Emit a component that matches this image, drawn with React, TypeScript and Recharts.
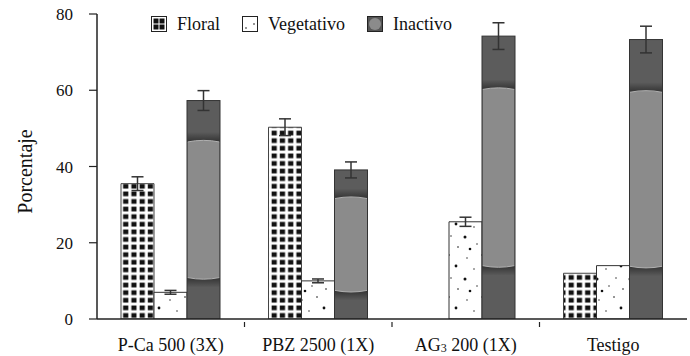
import React from 'react';
import { BarChart, Bar, XAxis, YAxis, ErrorBar } from 'recharts';

const categories = ['P-Ca 500 (3X)', 'PBZ 2500 (1X)', 'AG3 200 (1X)', 'Testigo'];
const floral = [35.5, 50.3, 0, 12];
const floralErr = [1.8, 2.2, 0, 0];
const vegetativo = [7, 10, 25.5, 14];
const vegetativoErr = [0.5, 0.5, 1.2, 0];
const inactivo = [57.3, 39.1, 74.2, 73.3];
const inactivoErr = [2.6, 2.1, 3.5, 3.5];
const yTicks = [0, 20, 40, 60, 80];

const data = categories.map((name, i) => ({
  name,
  floral: floral[i],
  floralErr: floralErr[i],
  vegetativo: vegetativo[i],
  vegetativoErr: vegetativoErr[i],
  inactivo: inactivo[i],
  inactivoErr: inactivoErr[i],
}));

const W = 690;
const H = 356;
const margin = { top: 14, right: 3, left: 0, bottom: 7 };
const Y_AXIS_W = 97;
const band = (W - margin.left - margin.right - Y_AXIS_W) / categories.length;
const FONT = '"Liberation Serif", "Times New Roman", serif';

const CategoryTick = (props: any) => {
  const { x, y, payload, index } = props;
  const label: string = payload.value;
  return (
    <g>
      {index > 0 && (
        <line x1={x - band / 2} x2={x - band / 2} y1={y + 3} y2={y + 8} stroke="#222" strokeWidth={1.2} />
      )}
      <text x={x} y={y + 32} textAnchor="middle" fontSize={18} fill="#111" fontFamily={FONT}>
        {label.startsWith('AG3') ? (
          <>
            <tspan>AG</tspan>
            <tspan fontSize={12} dy={1}>3</tspan>
            <tspan dy={-1}>{label.slice(3)}</tspan>
          </>
        ) : (
          label
        )}
      </text>
    </g>
  );
};

const YLabel = (props: any) => {
  const vb = props.viewBox || { x: 0, y: 14, width: 97, height: 305 };
  const cx = vb.x + 25;
  const cy = vb.y + vb.height / 2 + 5;
  return (
    <text
      x={cx}
      y={cy}
      transform={`rotate(-90, ${cx}, ${cy})`}
      textAnchor="middle"
      dominantBaseline="central"
      fontSize={20}
      fill="#111"
      fontFamily={FONT}
    >
      Porcentaje
    </text>
  );
};

const InactivoShape = (props: any) => {
  const { x, y, width, height } = props;
  if (!height || height <= 0) return null;
  const b = height * 0.185;
  const top = y + b;
  const bot = y + height - b;
  const topArc = `M${x + 0.5},${top + 1} Q${x + width / 2},${top - 2.2} ${x + width - 0.5},${top + 1}`;
  const botArc = `M${x + width - 0.5},${bot - 1} Q${x + width / 2},${bot + 2.2} ${x + 0.5},${bot - 1}`;
  return (
    <g>
      <rect x={x} y={y} width={width} height={height} fill="#5c5c5c" />
      <rect x={x} y={top - 9} width={width} height={10} fill="url(#shadeDown)" />
      <rect x={x} y={bot - 1} width={width} height={10} fill="url(#shadeUp)" />
      <path d={`${topArc} L${x + width - 0.5},${bot - 1} Q${x + width / 2},${bot + 2.2} ${x + 0.5},${bot - 1} Z`} fill="#8b8b8b" />
      <path d={topArc} fill="none" stroke="#b0b0b0" strokeWidth={1} />
      <path d={botArc} fill="none" stroke="#b0b0b0" strokeWidth={1} />
      <rect x={x} y={y} width={width} height={height} fill="none" stroke="#333" strokeWidth={1} />
    </g>
  );
};

const LegendBox = ({ kind }: { kind: string }) => (
  <svg width={16} height={16} style={{ display: 'block' }}>
    {kind === 'floral' && (
      <g>
        <rect x={0.5} y={0.5} width={15} height={15} fill="#fff" stroke="#222" />
        <rect x={2.5} y={2.5} width={5} height={5} fill="#111" />
        <rect x={8.5} y={2.5} width={5} height={5} fill="#111" />
        <rect x={2.5} y={8.5} width={5} height={5} fill="#111" />
        <rect x={8.5} y={8.5} width={5} height={5} fill="#111" />
      </g>
    )}
    {kind === 'veg' && (
      <g>
        <rect x={0.5} y={0.5} width={15} height={15} fill="#fff" stroke="#222" />
        <circle cx={4} cy={12} r={0.8} fill="#111" />
        <circle cx={12} cy={8} r={0.8} fill="#111" />
      </g>
    )}
    {kind === 'inact' && (
      <g>
        <rect x={0.5} y={0.5} width={15} height={15} fill="#555" stroke="#222" />
        <circle cx={8} cy={8} r={6} fill="#8b8b8b" />
      </g>
    )}
  </svg>
);

const legendItems = [
  { kind: 'floral', label: 'Floral' },
  { kind: 'veg', label: 'Vegetativo' },
  { kind: 'inact', label: 'Inactivo' },
];

export default function App() {
  return (
    <div style={{ position: 'absolute', left: 0, top: 0, width: W, height: H, background: '#fff', fontFamily: FONT }}>
      <BarChart
        width={W}
        height={H}
        data={data}
        margin={margin}
        barGap={0}
        barSize={33}
        style={{ fontFamily: FONT }}
      >
        <defs>
          <pattern id="floralPat" patternUnits="userSpaceOnUse" width={8.25} height={7.6} x={121.5} y={0}>
            <rect width={8.25} height={7.6} fill="#fff" />
            <rect x={1.6} y={1.5} width={5.2} height={4.7} fill="#111" />
          </pattern>
          <pattern id="vegPat" patternUnits="userSpaceOnUse" width={33} height={42} x={0} y={0}>
            <rect width={33} height={42} fill="#fff" />
            <circle cx={5} cy={6} r={0.7} fill="#111" />
            <circle cx={20} cy={3} r={0.8} fill="#111" />
            <circle cx={27} cy={14} r={1.4} fill="#111" />
            <circle cx={12} cy={17} r={0.7} fill="#111" />
            <circle cx={3} cy={27} r={1.5} fill="#111" />
            <circle cx={22} cy={26} r={0.7} fill="#111" />
            <circle cx={15} cy={34} r={0.7} fill="#111" />
            <circle cx={29} cy={37} r={0.8} fill="#111" />
            <circle cx={8} cy={39} r={1.3} fill="#111" />
          </pattern>
          <linearGradient id="shadeDown" x1="0" y1="0" x2="0" y2="1">
            <stop offset="0%" stopColor="#000" stopOpacity={0} />
            <stop offset="100%" stopColor="#000" stopOpacity={0.45} />
          </linearGradient>
          <linearGradient id="shadeUp" x1="0" y1="0" x2="0" y2="1">
            <stop offset="0%" stopColor="#000" stopOpacity={0.45} />
            <stop offset="100%" stopColor="#000" stopOpacity={0} />
          </linearGradient>
        </defs>
        <XAxis
          dataKey="name"
          axisLine={{ stroke: '#222', strokeWidth: 1.5 }}
          tickLine={false}
          tickSize={0}
          tickMargin={0}
          height={30}
          interval={0}
          tick={<CategoryTick />}
        />
        <YAxis
          width={Y_AXIS_W}
          domain={[0, 80]}
          ticks={yTicks}
          allowDataOverflow
          tickSize={8}
          tickMargin={16}
          axisLine={{ stroke: '#222', strokeWidth: 1.5 }}
          tickLine={{ stroke: '#222', strokeWidth: 1.2 }}
          tick={{ fill: '#111', fontSize: 17, fontFamily: FONT }}
          label={<YLabel />}
        />
        <Bar dataKey="floral" fill="url(#floralPat)" stroke="#444" strokeWidth={1} isAnimationActive={false}>
          <ErrorBar dataKey="floralErr" width={6} stroke="#333" strokeWidth={1.5} />
        </Bar>
        <Bar dataKey="vegetativo" fill="url(#vegPat)" stroke="#333" strokeWidth={1} isAnimationActive={false}>
          <ErrorBar dataKey="vegetativoErr" width={6} stroke="#333" strokeWidth={1.5} />
        </Bar>
        <Bar dataKey="inactivo" fill="#5c5c5c" shape={(p: any) => <InactivoShape {...p} />} isAnimationActive={false}>
          <ErrorBar dataKey="inactivoErr" width={6} stroke="#333" strokeWidth={1.5} />
        </Bar>
      </BarChart>
      <div style={{ position: 'absolute', left: 151, top: 14, display: 'flex', alignItems: 'center' }}>
        {legendItems.map((it) => (
          <div key={it.kind} style={{ display: 'flex', alignItems: 'center', marginRight: 22 }}>
            <LegendBox kind={it.kind} />
            <span style={{ marginLeft: 10, fontSize: 18, color: '#111', lineHeight: '20px' }}>{it.label}</span>
          </div>
        ))}
      </div>
    </div>
  );
}
